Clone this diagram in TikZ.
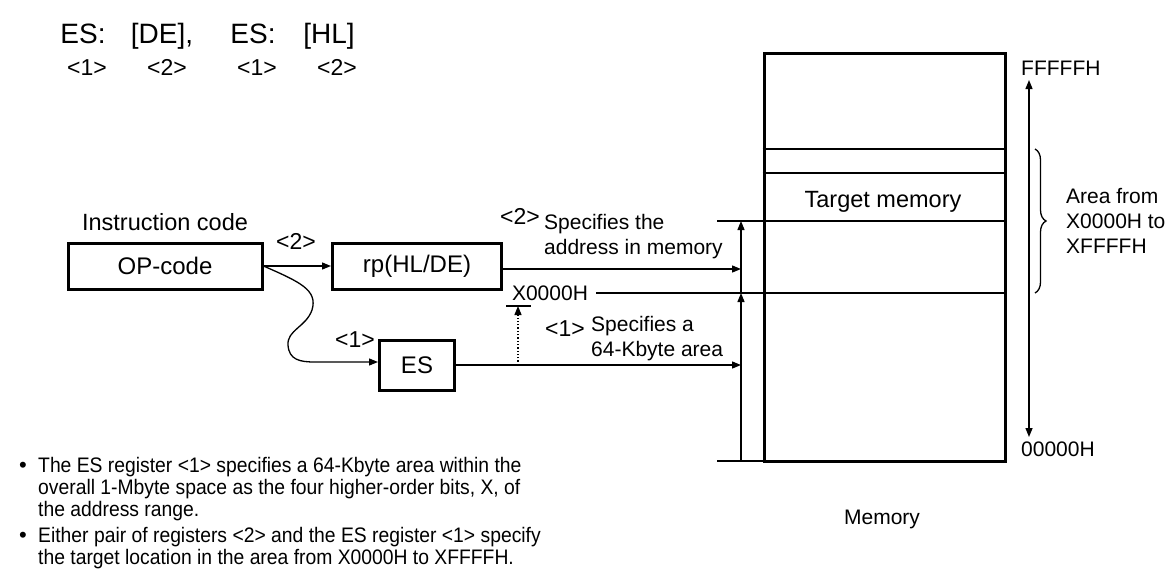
\documentclass[tikz,border=0pt]{standalone}
\usepackage{fontspec}
\setmainfont{Liberation Sans}
\newfontfamily\diagfont{Liberation Sans}
\newfontfamily\notefont[FakeStretch=0.92]{Liberation Sans}
\usetikzlibrary{
  arrows.meta,
  positioning,
  decorations.pathreplacing
}
\tikzset{
  regbox/.style={draw,line width=3pt,minimum height=46pt,inner sep=0pt,font=\diagfont\fontsize{24}{28}\selectfont},
  membox/.style={draw,line width=3pt,minimum width=241pt,minimum height=408pt,inner sep=0pt},
  lbl/.style={inner sep=0pt,font=\diagfont\fontsize{21}{25}\selectfont},
  keylbl/.style={inner sep=0pt,font=\diagfont\fontsize{23}{25}\selectfont},
  toplbl/.style={inner sep=0pt,anchor=base,font=\diagfont\fontsize{28}{30}\selectfont},
  note/.style={inner sep=0pt,align=left,anchor=north west,font=\notefont\fontsize{21}{22}\selectfont},
  thin/.style={line width=1.3pt},
  ptrarrow/.style={-{Triangle[length=9pt,width=7pt]},line width=1.3pt},
  rangearrow/.style={{Triangle[length=9pt,width=7pt]}-{Triangle[length=9pt,width=7pt]},line width=1.3pt},
  dotarrow/.style={-{Triangle[length=9pt,width=7pt]},line width=1.3pt,dotted}
}
\begin{document}
\begin{tikzpicture}[x=1pt,y=-1pt,node distance=6pt]
\useasboundingbox (0,0) rectangle (1169,579);
\node[toplbl] (es1) at (83,43) {ES:};
\node[toplbl] (de) at (162,43) {[DE],};
\node[toplbl] (es2) at (253,43) {ES:};
\node[toplbl] (hl) at (329,43) {[HL]};
\node[keylbl,anchor=base] (i1) at (87,75) {<1>};
\node[keylbl,anchor=base] (i2) at (167,75) {<2>};
\node[keylbl,anchor=base] (i3) at (257,75) {<1>};
\node[keylbl,anchor=base] (i4) at (337,75) {<2>};
\node[regbox,minimum width=194pt] (op) at (165,266) {OP-code};
\node[lbl,font=\diagfont\fontsize{23.5}{28}\selectfont,above=11pt of op] (icode) {Instruction code};
\node[regbox,minimum width=169pt] (rp) at (417,266) {rp(HL/DE)};
\node[regbox,minimum width=75pt,minimum height=50pt] (es) at (417,365) {ES};
\node[keylbl] (k2) at (296,241) {<2>};
\node[keylbl] (k1) at (355,340) {<1>};
\node[membox] (mem) at (884.5,257) {};
\node[lbl,font=\diagfont\fontsize{23.5}{28}\selectfont] (tgt) at (883,202) {Target memory};
\node[lbl] (memlbl) at (882,519) {Memory};
\coordinate (ptop) at (741,221);
\coordinate (pmid) at (741,293);
\coordinate (pbot) at (741,461);
\coordinate (tick) at (518,306);
\node[lbl] (x0) at (550,293) {X0000H};
\node[keylbl] (s2) at (520,216) {<2>};
\node[lbl,align=left,anchor=north west] (s2txt) at (544,214) {Specifies the\\address in memory};
\node[keylbl] (s1) at (565,329) {<1>};
\node[lbl,align=left,anchor=north west] (s1txt) at (591,316) {Specifies a\\64-Kbyte area};
\node[lbl,anchor=west] (hi) at (1021,68) {FFFFFH};
\node[lbl,anchor=west] (lo) at (1021,449) {00000H};
\node[lbl,align=left,anchor=west] (area) at (1066,221) {Area from\\X0000H to\\XFFFFH};
\draw[thin] (mem.west |- 0,149) -- (mem.east |- 0,149);
\draw[thin] (mem.west |- 0,173) -- (mem.east |- 0,173);
\draw[thin] (717,221) -- (mem.east |- ptop);
\draw[thin] (x0.east) ++(8,0) -- (mem.east |- pmid);
\draw[thin] (717,461) -- (mem.west |- pbot);
\draw[thin] ([xshift=-12pt]tick) -- ([xshift=13pt]tick);
\draw[ptrarrow] (pmid) -- (ptop);
\draw[ptrarrow] (pbot) -- (pmid);
\draw[ptrarrow] (op.east) -- (rp.west);
\draw[ptrarrow] (op.east) .. controls (300,282) and (318,290) .. (312,310)
  .. controls (306,327) and (287,330) .. (288,345)
  .. controls (289,360) and (300,362) .. (315,362) -- ([yshift=3pt]es.west);
\draw[ptrarrow] ([yshift=-3pt]rp.east) -- ([yshift=-3pt]rp.east -| ptop);
\draw[ptrarrow] (es.east) -- (es.east -| ptop);
\draw[dotarrow] (tick |- es.east) -- (tick);
\draw[rangearrow] (1029,437) -- (1029,80);
\draw[thin,decorate,decoration={brace,amplitude=11pt}] (1035,149) -- (1035,293);
\node[inner sep=0pt,font=\diagfont\fontsize{22}{22}\selectfont] (b1) at (23,467) {\textbullet};
\node[note] (n1) at (38,457) {The ES register <1> specifies a 64-Kbyte area within the\\overall 1-Mbyte space as the four higher-order bits, X, of\\the address range.};
\node[inner sep=0pt,font=\diagfont\fontsize{22}{22}\selectfont] (b2) at (23,537) {\textbullet};
\node[note] (n2) at (38,527) {Either pair of registers <2> and the ES register <1> specify\\the target location in the area from X0000H to XFFFFH.};
\end{tikzpicture}
\end{document}
